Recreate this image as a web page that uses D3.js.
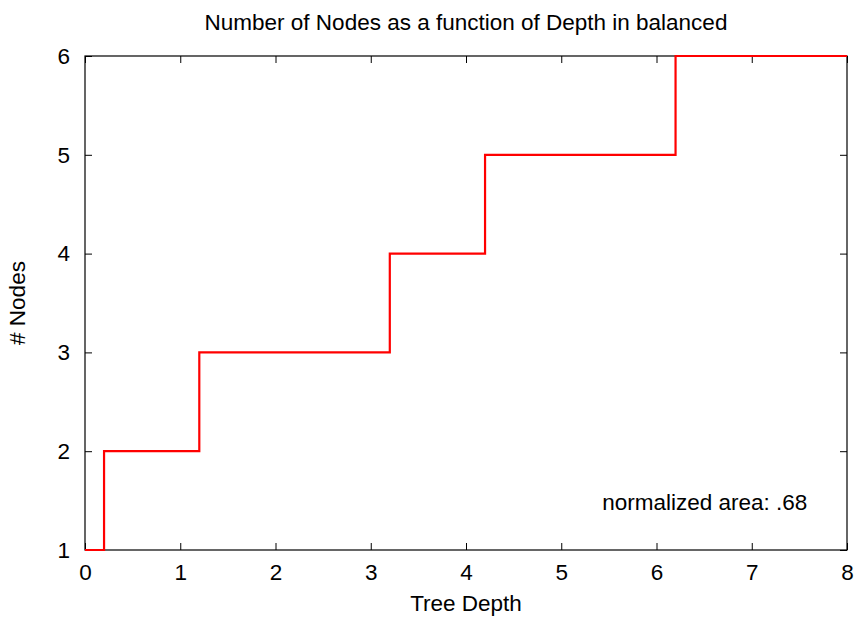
<!DOCTYPE html>
<html lang="en">
<head>
<meta charset="UTF-8">
<title>Number of Nodes as a function of Depth</title>
<style>
  body { margin: 0; background: #fff; }
  svg text { font-family: "Liberation Sans", Arial, sans-serif; fill: #000; }
</style>
</head>
<body>
<svg id="chart" width="862" height="626"></svg>
<script src="https://d3js.org/d3.v7.min.js"></script>
<script>
// data
var depths = [0, 0.2, 1.2, 3.2, 4.2, 6.2, 8];
var nodes  = [1, 2, 3, 4, 5, 6, 6];
var xTicks = [0, 1, 2, 3, 4, 5, 6, 7, 8];
var yTicks = [1, 2, 3, 4, 5, 6];
var title = "Number of Nodes as a function of Depth in balanced";
var xLabel = "Tree Depth", yLabel = "# Nodes";
var note = "normalized area: .68";

var margin = {left: 85, right: 15, top: 56, bottom: 76};
var width = 862, height = 626;
var svg = d3.select("#chart");

var x = d3.scaleLinear().domain([0, 8]).range([margin.left, width - margin.right]);
var y = d3.scaleLinear().domain([1, 6]).range([height - margin.bottom, margin.top]);

var fs = 22.5;
var tick = 7;
var fmt = d3.format("d");

// ticks, mirrored on all four sides, pointing in
var g = svg.append("g");
g.append("g").attr("transform", "translate(0," + y(1) + ")")
  .call(d3.axisBottom(x).tickValues(xTicks).tickFormat(fmt).tickSizeInner(-tick).tickSizeOuter(0).tickPadding(14));
g.append("g").attr("transform", "translate(0," + y(6) + ")")
  .call(d3.axisTop(x).tickValues(xTicks).tickSizeInner(-tick).tickSizeOuter(0).tickFormat(""));
g.append("g").attr("transform", "translate(" + x(0) + ",0)")
  .call(d3.axisLeft(y).tickValues(yTicks).tickFormat(fmt).tickSizeInner(-tick).tickSizeOuter(0).tickPadding(15));
g.append("g").attr("transform", "translate(" + x(8) + ",0)")
  .call(d3.axisRight(y).tickValues(yTicks).tickSizeInner(-tick).tickSizeOuter(0).tickFormat(""));

g.selectAll(".domain").remove();
g.selectAll(".tick line").attr("stroke", "#000").attr("stroke-width", 1);
g.selectAll(".tick text").attr("font-size", fs).attr("font-family", "Liberation Sans, Arial, sans-serif").attr("fill", "#000");

// border
svg.append("rect")
  .attr("x", x(0)).attr("y", y(6))
  .attr("width", x(8) - x(0)).attr("height", y(1) - y(6))
  .attr("fill", "none").attr("stroke", "#000").attr("stroke-width", 1.2);

// step line
var line = d3.line()
  .x(function(d, i) { return x(depths[i]); })
  .y(function(d) { return y(d); })
  .curve(d3.curveStepAfter);

svg.append("path")
  .datum(nodes)
  .attr("d", line)
  .attr("fill", "none")
  .attr("stroke", "#ff0000")
  .attr("stroke-width", 2.2);

// title and labels
svg.append("text")
  .attr("x", (x(0) + x(8)) / 2).attr("y", 30)
  .attr("text-anchor", "middle").attr("font-size", fs)
  .text(title);

svg.append("text")
  .attr("x", (x(0) + x(8)) / 2).attr("y", 611)
  .attr("text-anchor", "middle").attr("font-size", fs)
  .text(xLabel);

svg.append("text")
  .attr("transform", "translate(25," + (y(1) + y(6)) / 2 + ") rotate(-90)")
  .attr("text-anchor", "middle").attr("font-size", fs)
  .text(yLabel);

svg.append("text")
  .attr("x", x(5.43)).attr("y", y(1.405))
  .attr("font-size", fs)
  .text(note);
</script>
</body>
</html>
